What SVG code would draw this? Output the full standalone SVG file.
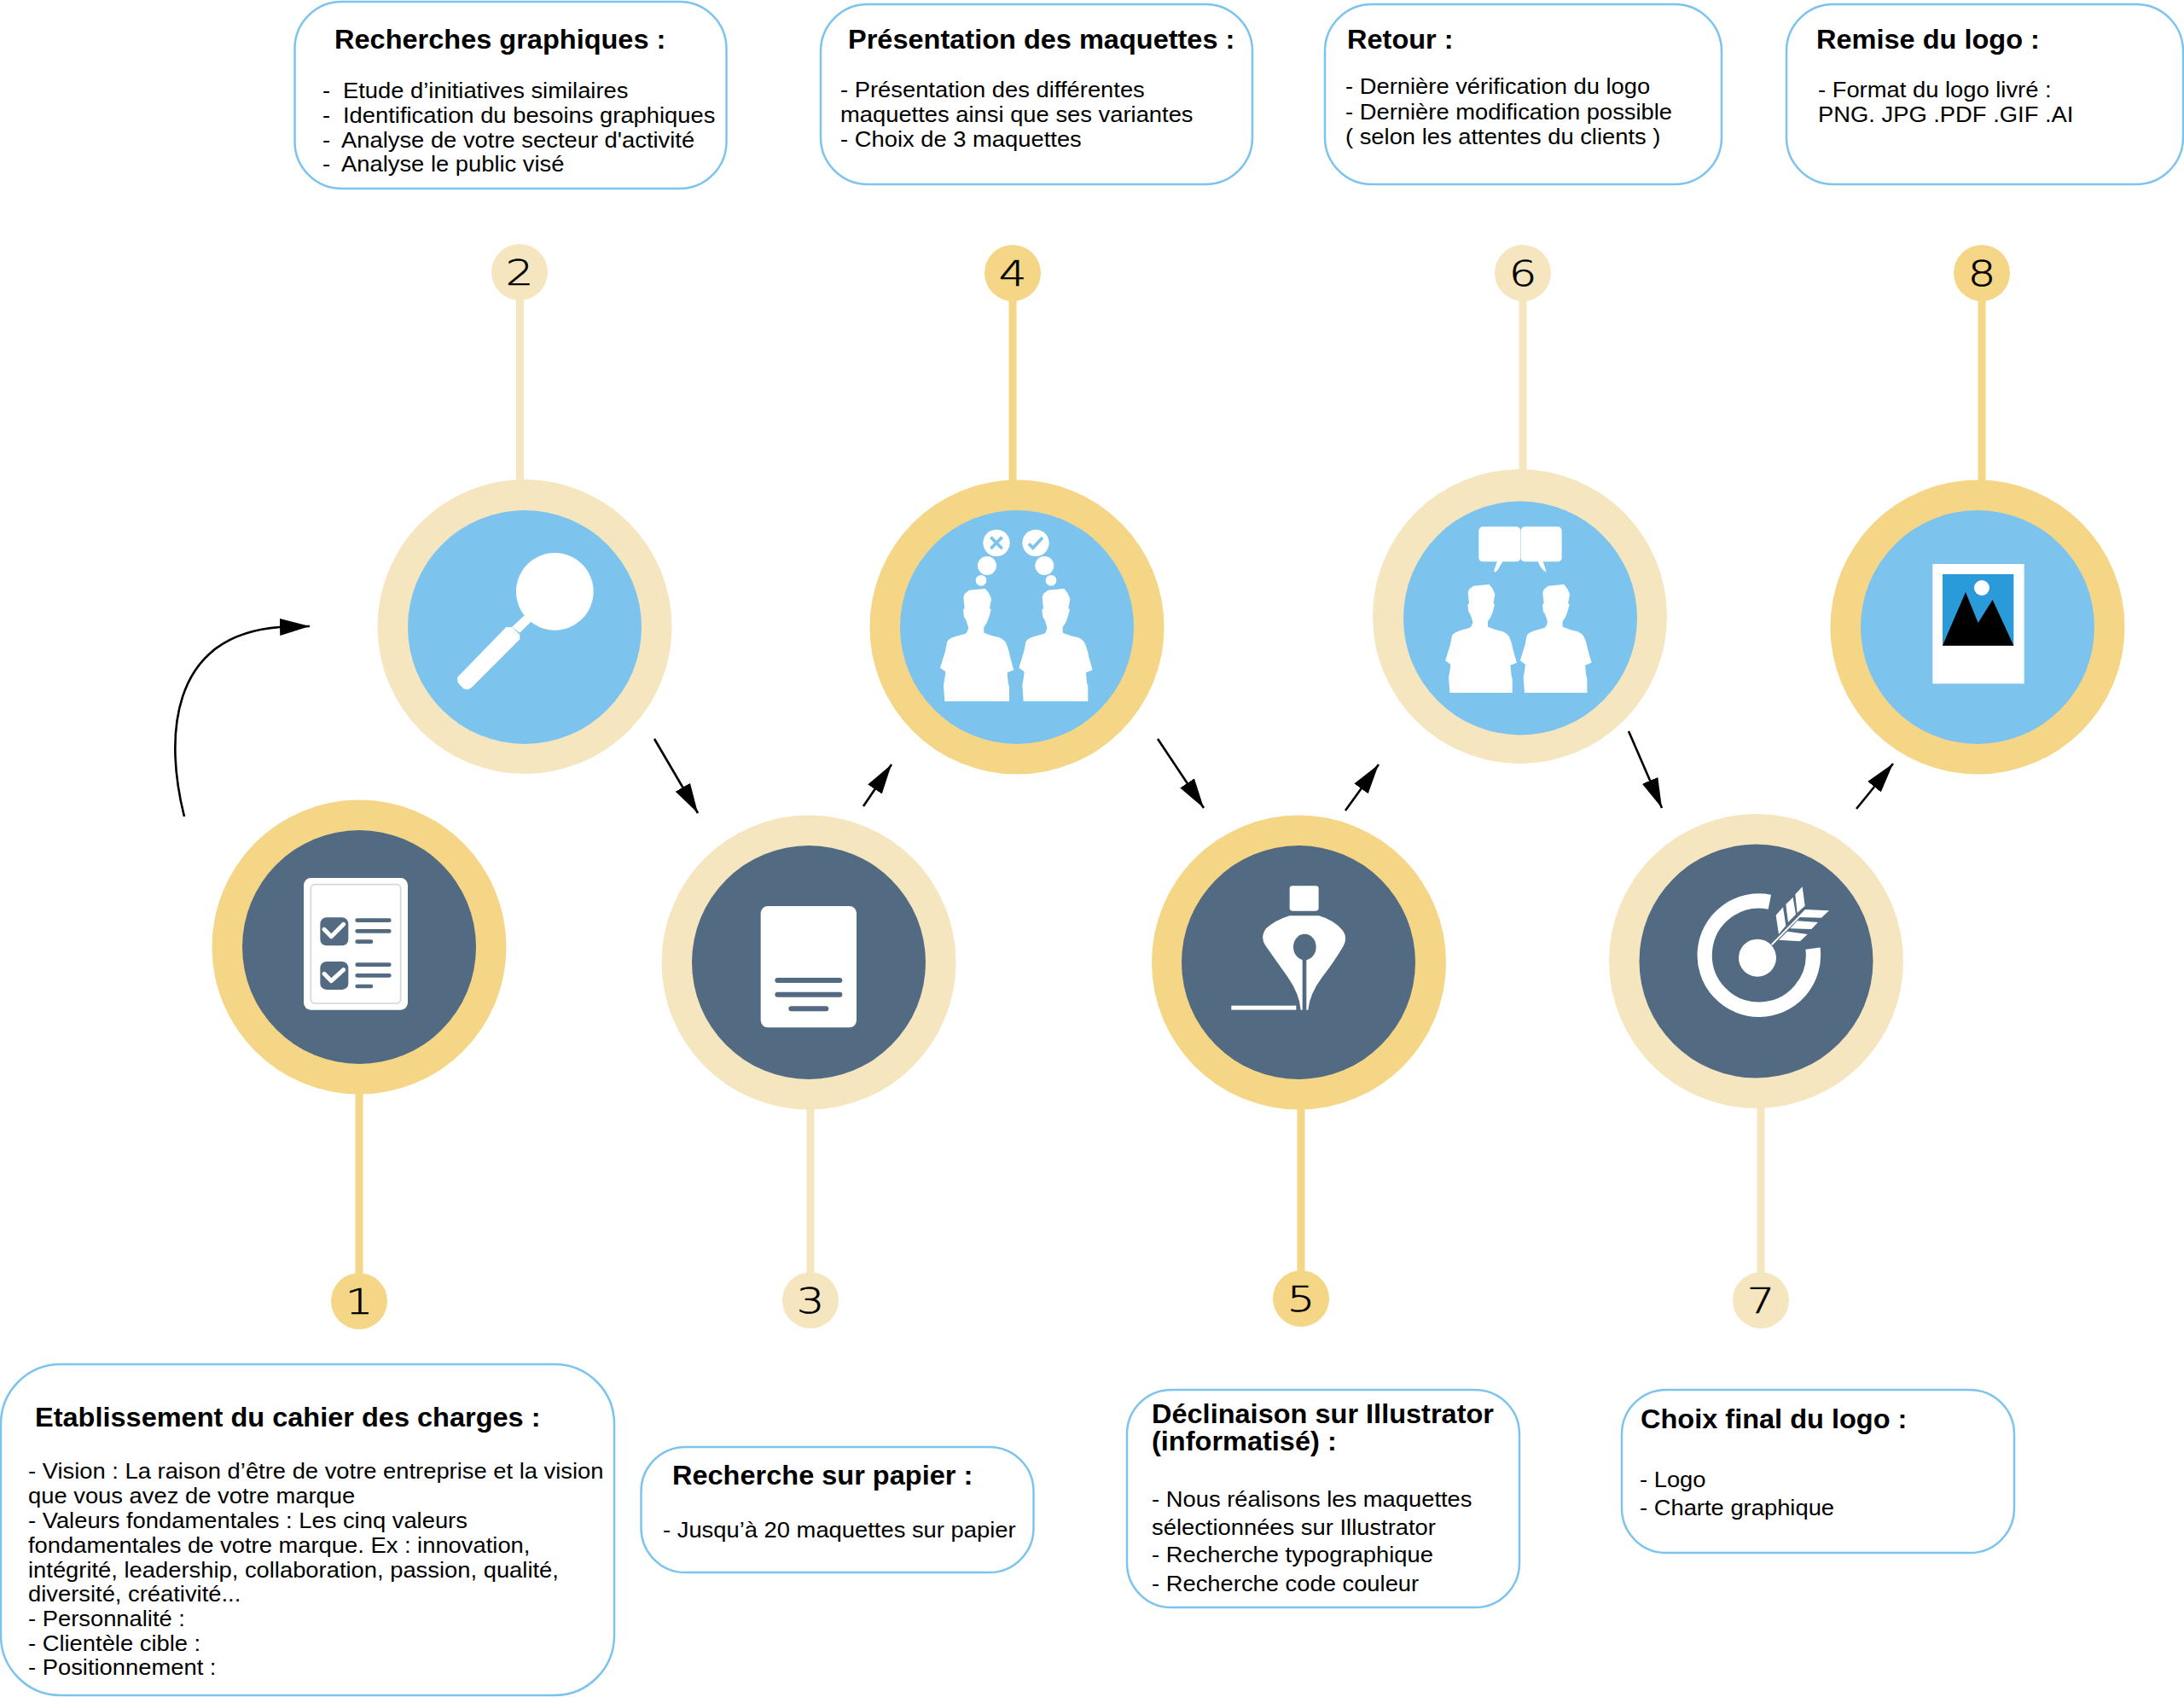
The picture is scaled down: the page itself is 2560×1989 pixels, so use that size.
<svg xmlns="http://www.w3.org/2000/svg" xmlns:xlink="http://www.w3.org/1999/xlink" width="2560" height="1989" viewBox="0 0 2560 1989">
<style>
text{font-family:"Liberation Sans",Arial,sans-serif;fill:#000}
.t{font-size:30.500px;font-weight:700;transform-box:fill-box;transform-origin:0 0;transform:scaleX(1.066)}
.b{font-size:25.500px;transform-box:fill-box;transform-origin:0 0;transform:scaleX(1.073)}
.n{font-family:"DejaVu Sans",sans-serif;font-weight:200;font-size:41px;text-anchor:middle;stroke:#000;stroke-width:.6}
.box{fill:#fff;stroke:#7cc4ee;stroke-width:2.500}
.dk{fill:#f4d686}.lt{fill:#f5e6c0}
.sb{fill:#7cc4ee}.ss{fill:#526b82}
.ldk{stroke:#f4d686;stroke-width:9}.llt{stroke:#f5e6c0;stroke-width:9}
.w{fill:#fff}
.a{fill:none;stroke:#000;stroke-width:2.600;marker-end:url(#h)}
.sl{stroke:#526b82;stroke-linecap:round;fill:none}
</style>
<defs>
<marker id="h" markerUnits="userSpaceOnUse" markerWidth="36" markerHeight="22" refX="35" refY="10" orient="auto"><path d="M0 0L35 10L0 20Z" fill="#000"/></marker>
<path id="person" d="M322 786L318 730L323 700L325 682L306 668L324 610L330 578Q335 565 360 558L395 548Q405 540 405 525L397 500L390 490L387 463L392 460L388 420L392 408L408 395L440 392L465 390L477 405L486 425L480 460L485 463L478 490L470 510L460 525L460 545L490 556L515 562Q530 568 538 582Q548 605 552 630L565 676L542 685L545 720L549 735L549 786Z" fill="#fff"/>
</defs>

<g id="connectors">
<path class="a" d="M216 957C194 870 195 745 328 735L363 734"/>
<line class="a" x1="767" y1="866" x2="818" y2="953"/>
<line class="a" x1="1012" y1="945" x2="1045" y2="896"/>
<line class="a" x1="1357" y1="866" x2="1411" y2="947"/>
<line class="a" x1="1577" y1="950" x2="1616" y2="896"/>
<line class="a" x1="1909" y1="857" x2="1948" y2="947"/>
<line class="a" x1="2176" y1="948" x2="2219" y2="895"/>
<line class="ldk" x1="421" y1="1280" x2="421" y2="1495"/>
<line class="llt" x1="609.500" y1="350" x2="609.500" y2="566"/>
<line class="llt" x1="950" y1="1298" x2="950" y2="1492"/>
<line class="ldk" x1="1187" y1="350" x2="1187" y2="566"/>
<line class="ldk" x1="1525" y1="1298" x2="1525" y2="1492"/>
<line class="llt" x1="1785" y1="350" x2="1785" y2="556"/>
<line class="llt" x1="2064" y1="1296" x2="2064" y2="1492"/>
<line class="ldk" x1="2323" y1="350" x2="2323" y2="566"/>
</g>

<g id="node1">
<circle class="dk" cx="421" cy="1110" r="172.500"/><circle class="ss" cx="421" cy="1110" r="137"/>
<g transform="translate(320 1000) scale(.3333)">
<rect class="w" x="108" y="87" width="366" height="464" rx="25"/>
<rect x="133" y="110" width="316" height="418" rx="14" fill="none" stroke="#d6d6d6" stroke-width="5"/>
<rect class="ss" x="166" y="226" width="99" height="99" rx="22"/>
<rect class="ss" x="166" y="381" width="99" height="99" rx="22"/>
<path d="M180 268L205 293L248 250M180 424L205 449L248 410" fill="none" stroke="#fff" stroke-width="15" stroke-linecap="round" stroke-linejoin="round"/>
<path class="sl" stroke-width="14" d="M296 236H409M296 274H409M296 311H345M296 392H409M296 430H409M296 468H345"/>
</g>
<circle class="dk" cx="421" cy="1525" r="33"/>
<text class="n" transform="translate(421 1540) scale(1.25 1)">1</text>
</g>

<g id="node2">
<circle class="lt" cx="615" cy="734.500" r="172.500"/><circle class="sb" cx="615" cy="735" r="137"/>
<g transform="translate(420 540) scale(.3333)" fill="#fff">
<circle cx="691" cy="460" r="136"/>
<path d="M540 585L585 543L607 566L568 605Z"/>
<path d="M520 585L540 585L568 612L568 628L398 798L385 805L370 802L350 780L348 762Z"/>
</g>
<circle class="lt" cx="609" cy="319" r="33"/>
<text class="n" transform="translate(609 334) scale(1.25 1)">2</text>
</g>

<g id="node3">
<circle class="lt" cx="948" cy="1128" r="172.500"/><circle class="ss" cx="948" cy="1128" r="137"/>
<g transform="translate(860 1040) scale(.3333)">
<rect class="w" x="95" y="66" width="337" height="427" rx="25"/>
<path class="sl" stroke-width="18" d="M154 327H373M154 377H373M202 427H325"/>
</g>
<circle class="lt" cx="950" cy="1524" r="33"/>
<text class="n" transform="translate(950 1539) scale(1.25 1)">3</text>
</g>

<g id="node4">
<circle class="dk" cx="1192" cy="735" r="172.500"/><circle class="sb" cx="1192" cy="735" r="137"/>
<g transform="translate(1000 560) scale(.3333)">
<use xlink:href="#person" href="#person"/>
<use xlink:href="#person" href="#person" x="277"/>
<g fill="#fff"><circle cx="504" cy="229" r="47"/><circle cx="642" cy="229" r="47"/><circle cx="471" cy="309" r="33"/><circle cx="673" cy="309" r="33"/><circle cx="450" cy="361" r="19"/><circle cx="696" cy="361" r="19"/></g>
<path d="M484 209L524 249M524 209L484 249M618 232L632 247L666 211" fill="none" stroke="#7cc4ee" stroke-width="11"/>
</g>
<circle class="dk" cx="1187" cy="320" r="33"/>
<text class="n" transform="translate(1187 335) scale(1.25 1)">4</text>
</g>

<g id="node5">
<circle class="dk" cx="1522.500" cy="1128" r="172.500"/><circle class="ss" cx="1522" cy="1128" r="137"/>
<g transform="translate(1420 1020) scale(.3333)">
<rect class="w" x="275" y="55" width="102" height="88" rx="10"/>
<path class="w" d="M275 160H378Q430 175 460 210Q480 235 465 265Q430 325 390 375Q345 435 340 491H314Q310 435 268 375Q225 315 190 265Q170 235 192 205Q225 175 275 160Z"/>
<ellipse class="ss" cx="328" cy="270" rx="40" ry="46"/>
<rect class="ss" x="320" y="300" width="14" height="192"/>
<rect class="w" x="70" y="476" width="228" height="15"/>
</g>
<circle class="dk" cx="1525" cy="1522" r="33"/>
<text class="n" transform="translate(1525 1537) scale(1.25 1)">5</text>
</g>

<g id="node6">
<circle class="lt" cx="1781.500" cy="722.500" r="172.500"/><circle class="sb" cx="1782" cy="724.500" r="137"/>
<g transform="translate(1620 560) scale(.3333)">
<use xlink:href="#person" href="#person" transform="translate(-74.300 0) scale(.97 .962)"/>
<use xlink:href="#person" href="#person" transform="translate(188.700 0) scale(.97 .962)"/>
<g fill="#fff">
<rect x="340" y="172" width="147" height="123" rx="14"/><rect x="488" y="172" width="144" height="123" rx="14"/>
<path d="M405 293L393 328Q398 336 407 324L425 293Z"/><path d="M548 293Q560 325 578 332L566 293Z"/>
</g>
</g>
<circle class="lt" cx="1785" cy="320" r="33"/>
<text class="n" transform="translate(1785 335) scale(1.25 1)">6</text>
</g>

<g id="node7">
<circle class="lt" cx="2058.500" cy="1126.500" r="172.500"/><circle class="ss" cx="2058.500" cy="1126.500" r="137"/>
<g transform="translate(1960 1020) scale(.3333)">
<path d="M343 111.500A191 191 0 1 0 495 275" fill="none" stroke="#fff" stroke-width="52"/>
<circle class="w" cx="300" cy="308" r="66"/>
<path d="M350 262L470 140" stroke="#fff" stroke-width="6"/>
<g class="w">
<path d="M365 158L390 130L400 195L375 225Z"/><path d="M400 120L425 95L435 155L408 183Z"/><path d="M433 85L458 58L467 125L440 150Z"/>
<path d="M375 245L405 215L476 225L450 250Z"/><path d="M415 205L440 178L513 183L490 207Z"/><path d="M445 165L470 138L552 142L525 167Z"/>
</g>
</g>
<circle class="lt" cx="2064" cy="1524" r="33"/>
<text class="n" transform="translate(2064 1539) scale(1.25 1)">7</text>
</g>

<g id="node8">
<circle class="dk" cx="2318" cy="735" r="172.500"/><circle class="sb" cx="2318" cy="735" r="137"/>
<g transform="translate(2200 620) scale(.3333)">
<rect class="w" x="196" y="123" width="322" height="421"/>
<rect x="231" y="159" width="250" height="251" fill="#2a9ad9"/>
<circle class="w" cx="369" cy="207" r="27"/>
<path d="M231 410L312 222L356 330L407 249L481 410Z" fill="#000"/>
</g>
<circle class="dk" cx="2323" cy="320" r="33"/>
<text class="n" transform="translate(2323 335) scale(1.25 1)">8</text>
</g>

<g id="box1">
<rect class="box" x="1" y="1599" width="719" height="388" rx="70"/>
<text class="t" x="41" y="1672">Etablissement du cahier des charges :</text>
<text class="b" x="33" y="1733">- Vision : La raison d’être de votre entreprise et la vision</text>
<text class="b" x="33" y="1762">que vous avez de votre marque</text>
<text class="b" x="33" y="1791">- Valeurs fondamentales : Les cinq valeurs</text>
<text class="b" x="33" y="1820">fondamentales de votre marque. Ex : innovation,</text>
<text class="b" x="33" y="1849">intégrité, leadership, collaboration, passion, qualité,</text>
<text class="b" x="33" y="1877">diversité, créativité...</text>
<text class="b" x="33" y="1906">- Personnalité :</text>
<text class="b" x="33" y="1935">- Clientèle cible :</text>
<text class="b" x="33" y="1963">- Positionnement :</text>
</g>

<g id="box2">
<rect class="box" x="345.500" y="2" width="506" height="219" rx="55"/>
<text class="t" x="392" y="57">Recherches graphiques :</text>
<text class="b" x="378" y="115">-</text><text class="b" x="402" y="115">Etude d’initiatives similaires</text>
<text class="b" x="378" y="144">-</text><text class="b" x="402" y="144">Identification du besoins graphiques</text>
<text class="b" x="378" y="173">-</text><text class="b" x="400" y="173">Analyse de votre secteur d'activité</text>
<text class="b" x="378" y="201">-</text><text class="b" x="400" y="201">Analyse le public visé</text>
</g>

<g id="box3">
<rect class="box" x="751.500" y="1696" width="460" height="147" rx="52"/>
<text class="t" x="788" y="1740">Recherche sur papier :</text>
<text class="b" x="777" y="1802">- Jusqu’à 20 maquettes sur papier</text>
</g>

<g id="box4">
<rect class="box" x="962" y="5" width="506" height="211" rx="55"/>
<text class="t" x="994" y="57">Présentation des maquettes :</text>
<text class="b" x="985" y="114">- Présentation des différentes</text>
<text class="b" x="985" y="143">maquettes ainsi que ses variantes</text>
<text class="b" x="985" y="172">- Choix de 3 maquettes</text>
</g>

<g id="box5">
<rect class="box" x="1321" y="1629" width="460" height="255" rx="52"/>
<text class="t" x="1350" y="1668">Déclinaison sur Illustrator</text>
<text class="t" x="1350" y="1700">(informatisé) :</text>
<text class="b" x="1350" y="1766">- Nous réalisons les maquettes</text>
<text class="b" x="1350" y="1799">sélectionnées sur Illustrator</text>
<text class="b" x="1350" y="1831">- Recherche typographique</text>
<text class="b" x="1350" y="1865">- Recherche code couleur</text>
</g>

<g id="box6">
<rect class="box" x="1553" y="5" width="465" height="211" rx="55"/>
<text class="t" x="1579" y="57">Retour :</text>
<text class="b" x="1577" y="110">- Dernière vérification du logo</text>
<text class="b" x="1577" y="140">- Dernière modification possible</text>
<text class="b" x="1577" y="169">( selon les attentes du clients )</text>
</g>

<g id="box7">
<rect class="box" x="1901" y="1629" width="460" height="191" rx="52"/>
<text class="t" x="1923" y="1674">Choix final du logo :</text>
<text class="b" x="1922" y="1743">- Logo</text>
<text class="b" x="1922" y="1776">- Charte graphique</text>
</g>

<g id="box8">
<rect class="box" x="2094" y="5" width="465" height="211" rx="55"/>
<text class="t" x="2129" y="57">Remise du logo :</text>
<text class="b" x="2131" y="114">- Format du logo livré :</text>
<text class="b" x="2131" y="143">PNG. JPG .PDF .GIF .AI</text>
</g>
</svg>
